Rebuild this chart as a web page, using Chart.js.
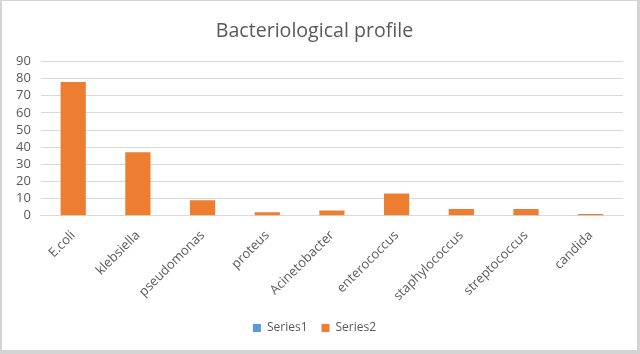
<!DOCTYPE html>
<html>
<head>
<meta charset="utf-8">
<script src="https://cdn.jsdelivr.net/npm/chart.js@4"></script>
<style>
  html, body { margin:0; padding:0; background:#d4d4d4; }
  #wrap { position:absolute; left:2px; top:1px; width:635px; height:349px; background:#fff; }
</style>
</head>
<body>
<div id="wrap"><canvas id="barChart" width="635" height="349"></canvas></div>
<script>
const categories = ['E.coli','klebsiella','pseudomonas','proteus','Acinetobacter','enterococcus','staphylococcus','streptococcus','candida']
const series1 = [null,null,null,null,null,null,null,null,null]
const series2 = [78,37,9,2,3,13,4,4,1]
const yTicks = [0,10,20,30,40,50,60,70,80,90]

const font = "'Open Sans', 'Liberation Sans', sans-serif"
const ctx = document.getElementById('barChart').getContext('2d')
new Chart(ctx, {
  type: 'bar',
  data: {
    labels: categories,
    datasets: [
      { label:'Series1', data: series1, backgroundColor:'#5b9bd5', borderWidth:0 },
      { label:'Series2', data: series2, backgroundColor:'#ed7d31', borderWidth:0 }
    ]
  },
  options: {
    responsive: false,
    animation: false,
    layout: { padding: { left: 4, right: 14, top: 0, bottom: 6 } },
    datasets: { bar: { grouped:false, categoryPercentage:1, barPercentage:0.39 } },
    plugins: {
      title: { display:true, text:'Bacteriological profile', color:'#595959', font:{family:font, size:19.6, weight:'normal'}, padding:{top:19, bottom:18} },
      legend: { position:'bottom', labels:{ color:'#595959', font:{family:font, size:12}, boxWidth:8, boxHeight:8, padding:14 } },
      tooltip: { enabled:false }
    },
    scales: {
      x: {
        grid: { display:false },
        border: { color:'#d9d9d9' },
        ticks: { color:'#595959', font:{family:font, size:13}, maxRotation:45, minRotation:45, padding:4, autoSkip:false }
      },
      y: {
        min: 0, max: 90,
        afterBuildTicks: s => { s.ticks = yTicks.map(v => ({ value:v })) },
        grid: { color:'#d9d9d9', drawTicks:false },
        border: { display:false },
        ticks: { color:'#595959', font:{family:font, size:13}, padding:10, autoSkip:false }
      }
    }
  }
})
</script>
</body>
</html>
